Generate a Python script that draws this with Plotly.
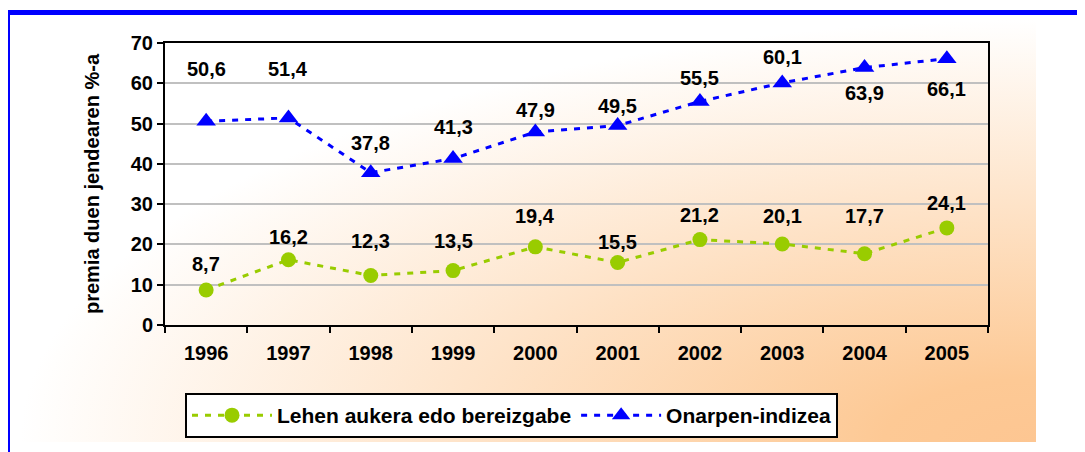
import base64
import plotly.graph_objects as go

years = ["1996", "1997", "1998", "1999", "2000", "2001", "2002", "2003", "2004", "2005"]
lehen = [8.7, 16.2, 12.3, 13.5, 19.4, 15.5, 21.2, 20.1, 17.7, 24.1]
onarpen = [50.6, 51.4, 37.8, 41.3, 47.9, 49.5, 55.5, 60.1, 63.9, 66.1]
lehen_name = "Lehen aukera edo bereizgabe"
onarpen_name = "Onarpen-indizea"
y_title = "premia duen jendearen %-a"

# label offsets in px (positive = up)
lehen_shift = [26, 23, 34, 30, 31, 21, 25, 28, 38, 25]
onarpen_shift = [52, 49, 30, 32, 22, 20, 23, 26, -25, -30]

GREEN = "#99CC00"
BLUE = "#0000FF"
FONT = "Liberation Sans, Arial, sans-serif"

W, H = 1085, 452
OFF = 8  # page body margin
SL, ST, SR, SB = 165, 43, 988, 325  # plot area in screen pixels
L, T = SL - OFF, ST - OFF
R, B = W - (SR - OFF), H - (SB - OFF)
PW, PH = SR - SL, SB - ST


def px_x(p):
    return (p - SL) / PW


def px_y(p):
    return (SB - p) / PH


fig = go.Figure()
fig.add_trace(go.Scatter(
    x=years, y=lehen, name=lehen_name, mode="lines+markers",
    line=dict(color=GREEN, width=3, dash="6px,7px"),
    marker=dict(symbol="circle", size=15, color=GREEN),
))
fig.add_trace(go.Scatter(
    x=years, y=onarpen, name=onarpen_name, mode="lines+markers",
    line=dict(color=BLUE, width=3, dash="6px,7px"),
    marker=dict(symbol="triangle-up", size=17, color=BLUE),
))

annotations = []
for ys, sh in ((lehen, lehen_shift), (onarpen, onarpen_shift)):
    for i, (yv, s) in enumerate(zip(ys, sh)):
        annotations.append(dict(
            x=i, y=yv, xref="x", yref="y",
            text=("%.1f" % yv).replace(".", ","), showarrow=False,
            yshift=s, font=dict(family=FONT, size=20, color="black", weight="bold"),
        ))

svg = (
    '<svg xmlns="http://www.w3.org/2000/svg" width="1016" height="422" preserveAspectRatio="none">'
    '<defs><radialGradient id="g" cx="1" cy="1" r="1" gradientUnits="objectBoundingBox">'
    '<stop offset="0" stop-color="#FDC692"/><stop offset="0.15" stop-color="#FDC995"/>'
    '<stop offset="1" stop-color="#FFFFFF"/></radialGradient></defs>'
    '<rect width="1016" height="422" fill="url(#g)"/></svg>'
)
src = "data:image/svg+xml;base64," + base64.b64encode(svg.encode()).decode()

fig.update_layout(
    width=W, height=H,
    margin=dict(l=L, r=R, t=T, b=B, pad=0),
    paper_bgcolor="white", plot_bgcolor="rgba(0,0,0,0)",
    font=dict(family=FONT, size=18, color="black"),
    showlegend=True,
    legend=dict(
        orientation="h", x=px_x(185), y=px_y(393), xanchor="left", yanchor="top",
        bgcolor="white", bordercolor="black", borderwidth=2,
        font=dict(family=FONT, size=21, color="black", weight="bold"),
        itemwidth=80,
    ),
    images=[dict(
        source=src, xref="paper", yref="paper",
        x=px_x(20), y=px_y(20), sizex=(1036 - 20) / PW, sizey=(442 - 20) / PH,
        xanchor="left", yanchor="top", sizing="stretch", layer="below",
    )],
    shapes=[dict(
        type="rect", xref="paper", yref="paper",
        x0=px_x(7.5), x1=px_x(1110), y0=px_y(12.5), y1=px_y(480),
        line=dict(color=BLUE, width=5), fillcolor="rgba(0,0,0,0)", layer="above",
    )],
    annotations=annotations,
    xaxis=dict(
        type="category", range=[-0.5, 9.5], tickson="boundaries",
        ticks="outside", ticklen=6, tickwidth=2, tickcolor="black",
        showline=True, linecolor="black", linewidth=2, mirror=True,
        showgrid=False, zeroline=False, ticklabelstandoff=9,
        tickfont=dict(family=FONT, size=20, color="black", weight="bold"),
    ),
    yaxis=dict(
        range=[0, 70], dtick=10, ticks="outside", ticklen=6, tickwidth=2, tickcolor="black",
        showline=True, linecolor="black", linewidth=2, mirror=True,
        showgrid=True, gridcolor="#C0C0C0", gridwidth=2, zeroline=False,
        tickfont=dict(family=FONT, size=20, color="black", weight="bold"),
        title=dict(text=y_title, standoff=26,
                   font=dict(family=FONT, size=20, color="black", weight="bold")),
    ),
)

fig.write_html("out.html")
